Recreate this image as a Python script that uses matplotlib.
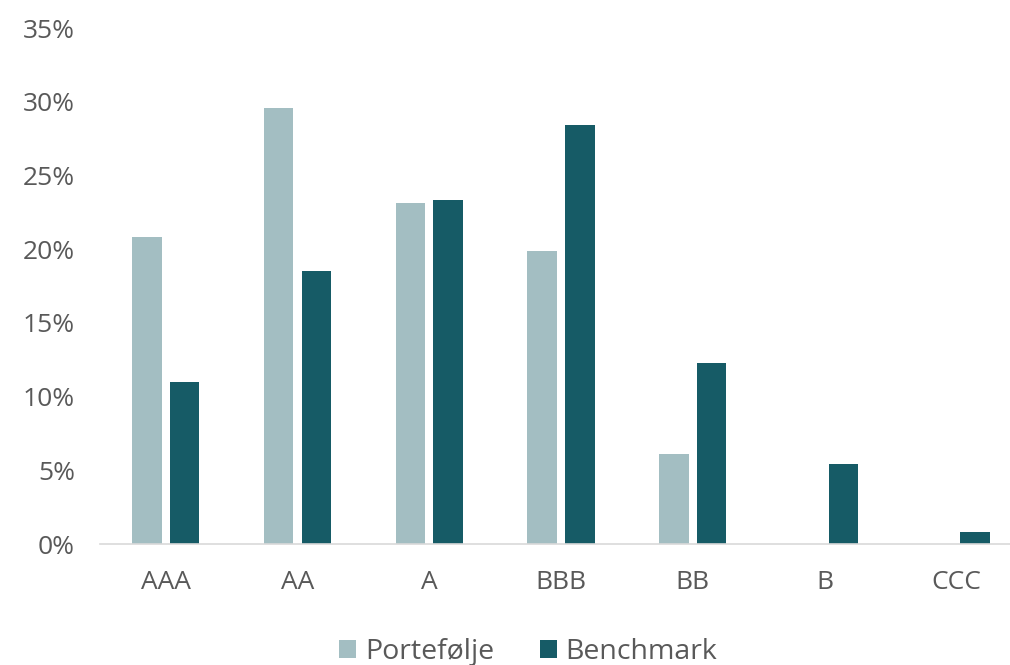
import numpy as np
import matplotlib.pyplot as plt
from matplotlib.ticker import PercentFormatter

plt.rcParams['font.family'] = ['Open Sans', 'DejaVu Sans']

ratings     = ['AAA', 'AA', 'A', 'BBB', 'BB', 'B', 'CCC']
portefolje  = [20.8, 29.6, 23.1, 19.9, 6.1, 0.0, 0.0]
benchmark   = [11.0, 18.5, 23.3, 28.4, 12.3, 5.4, 0.8]

c_port  = '#A3BEC2'
c_bench = '#165B66'
txt     = '#595959'

fig = plt.figure(figsize=(10.10, 6.65), dpi=100)
ax  = fig.add_axes([100/1010, 121/665, 922/1010, 516/665])

x = np.arange(len(ratings))
w = 0.223
off = 0.143
ax.bar(x - off, portefolje, w, color=c_port, label='Portefølje')
ax.bar(x + off, benchmark, w, color=c_bench, label='Benchmark')

ax.set_xlim(-0.5, len(ratings) - 0.5)
ax.set_ylim(0, 35)
ax.set_yticks(np.arange(0, 36, 5))
ax.yaxis.set_major_formatter(PercentFormatter(decimals=0))
ax.set_xticks(x)
ax.set_xticklabels(ratings)

for s in ['top', 'right', 'left']:
    ax.spines[s].set_visible(False)
ax.spines['bottom'].set_color('#D9D9D9')
ax.spines['bottom'].set_linewidth(1.2)
ax.tick_params(axis='both', length=0, labelsize=19, colors=txt)
ax.tick_params(axis='x', pad=19)
ax.tick_params(axis='y', pad=18)

leg = fig.legend(loc='center', bbox_to_anchor=(0.523, 13/665), ncol=2, frameon=False,
                 fontsize=20.5, handlelength=0.6, handleheight=0.6,
                 handletextpad=0.3, columnspacing=1.6)
for t in leg.get_texts():
    t.set_color(txt)

fig.savefig('out.png', dpi=100)
